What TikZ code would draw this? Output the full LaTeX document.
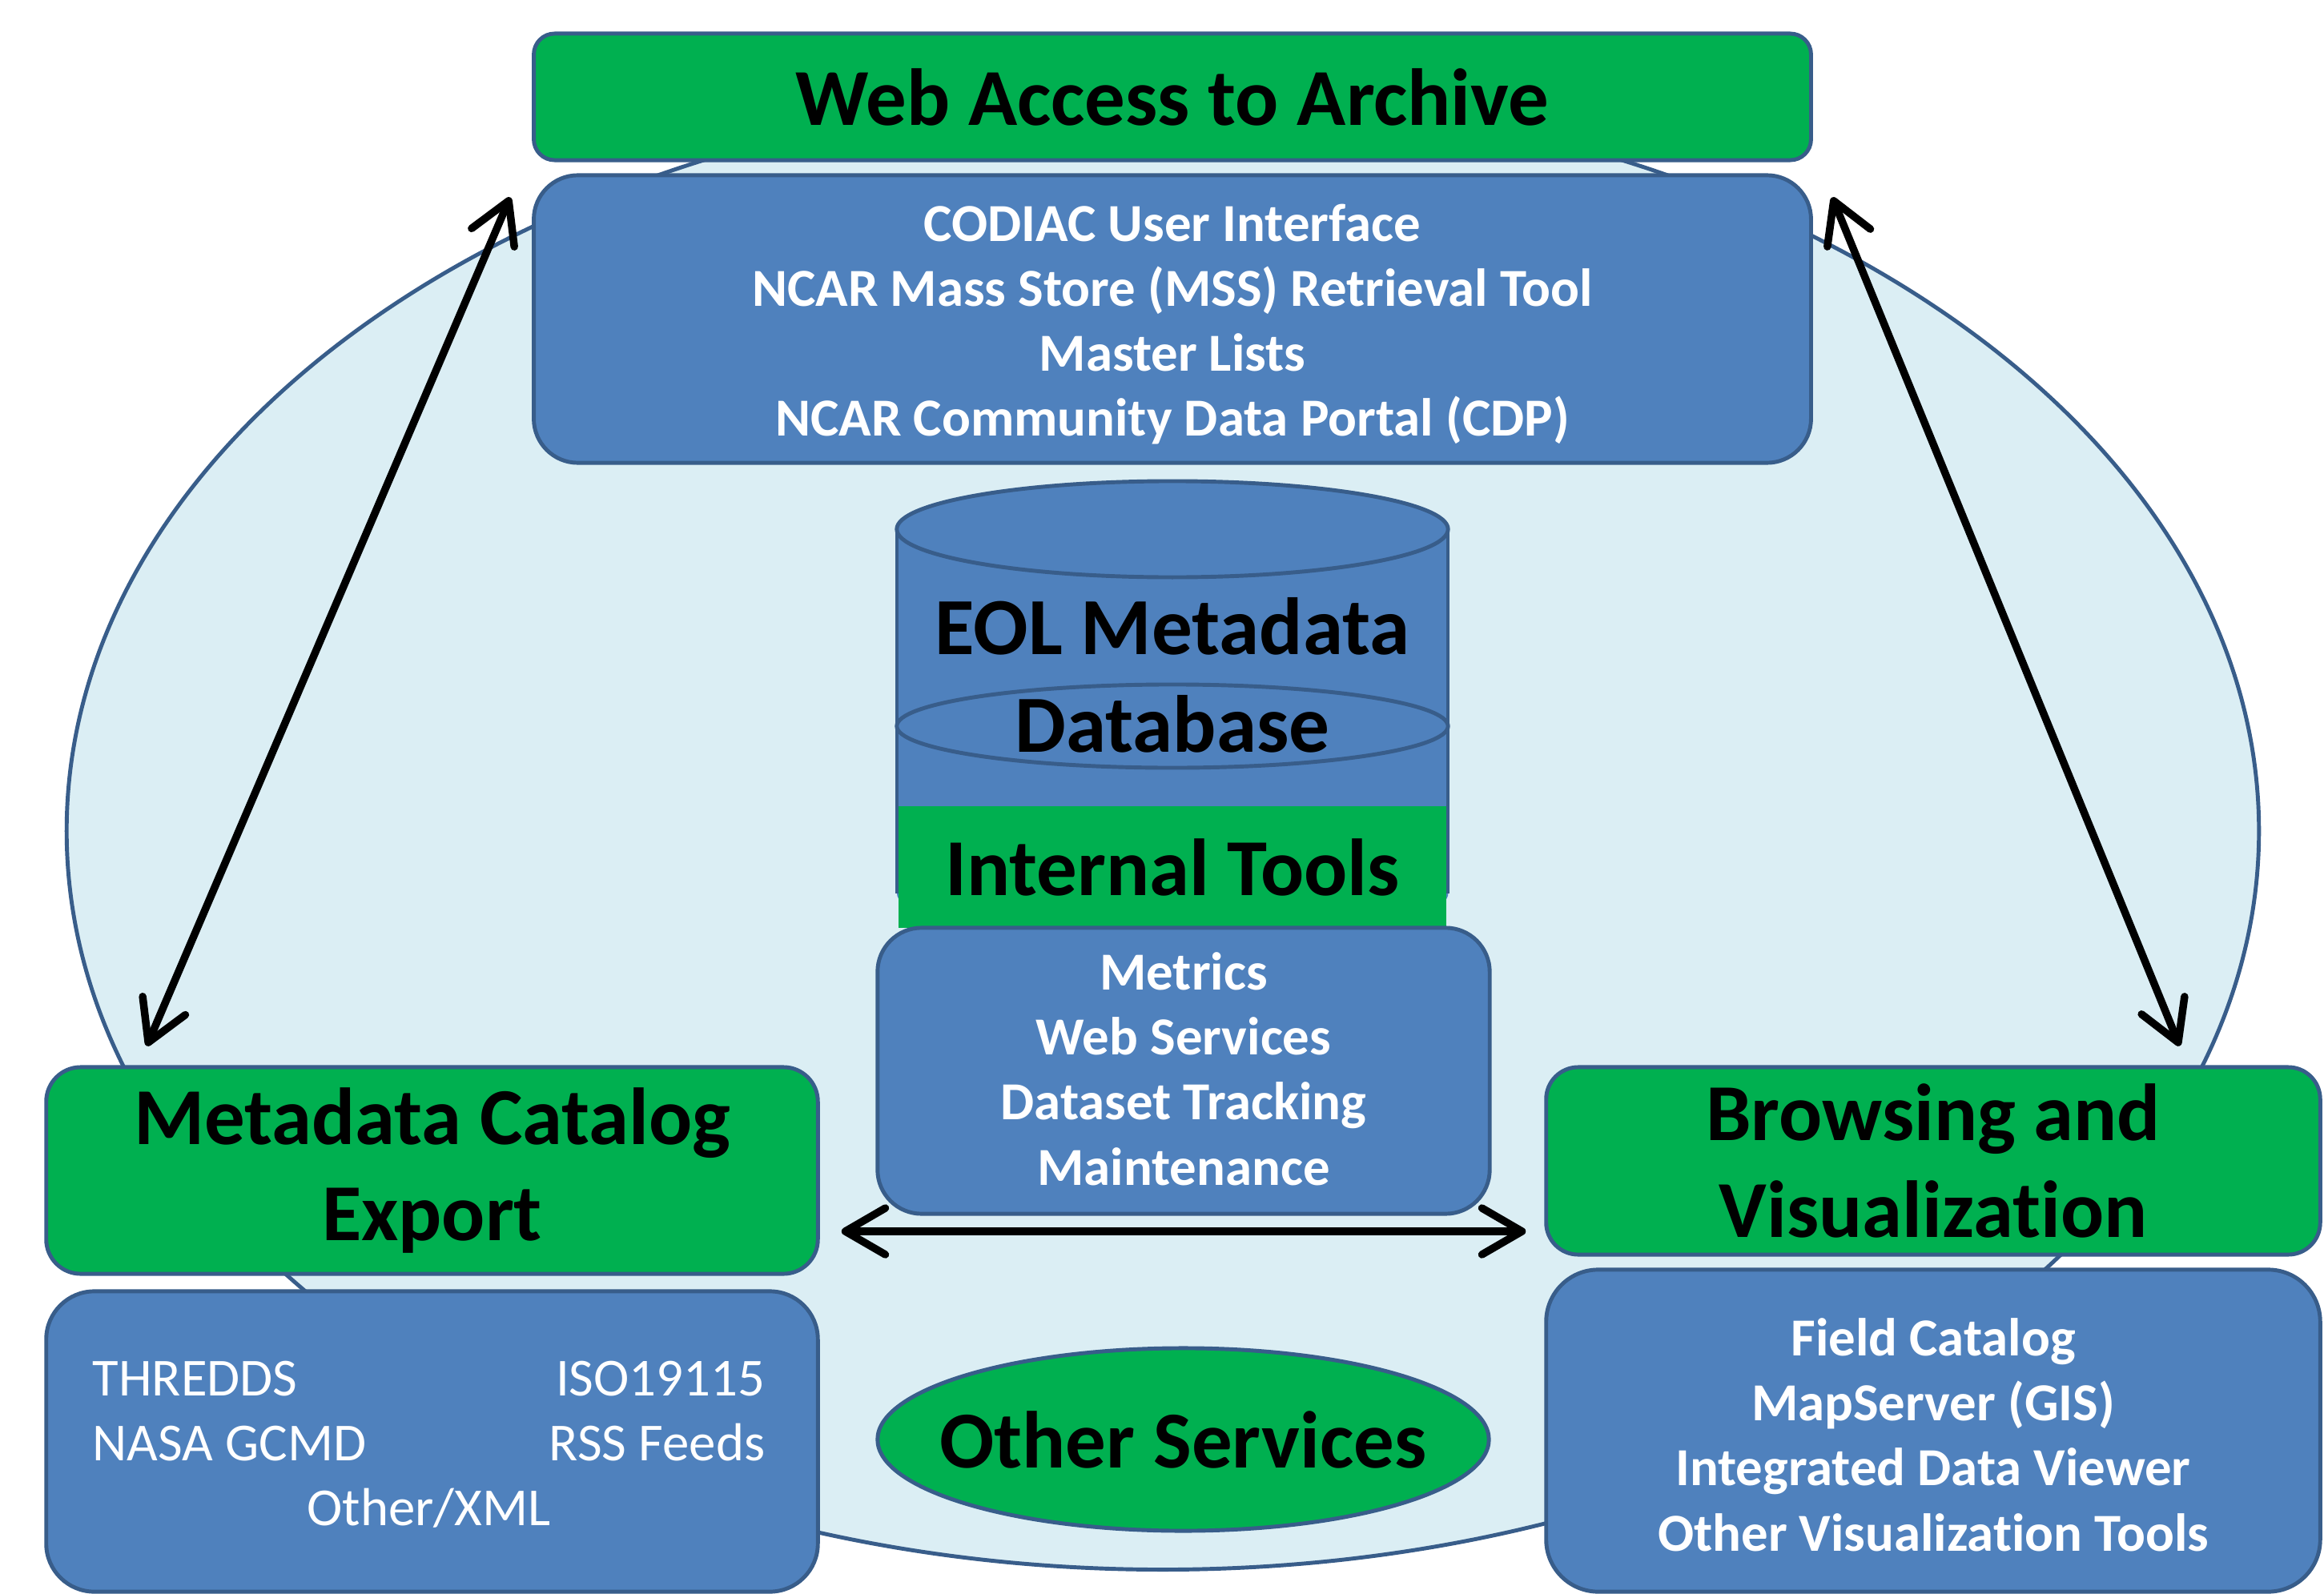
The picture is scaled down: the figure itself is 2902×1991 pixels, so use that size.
\documentclass[tikz,border=0pt]{standalone}
\usepackage{fontspec}
\setmainfont{Carlito}[Ligatures={NoCommon,NoContextual}]
\usetikzlibrary{arrows.meta,calc,shapes.geometric}
\definecolor{edge}{HTML}{385D8A}
\definecolor{boxblue}{HTML}{4F81BD}
\definecolor{boxgreen}{HTML}{00B050}
\definecolor{cloudfill}{HTML}{DBEEF4}
\begin{document}
\begin{tikzpicture}[x=0.01cm,y=-0.01cm,
  outline/.style={draw=edge,line width=1.4pt},
  titlefont/.style={font=\bfseries\fontsize{28.7}{34.4}\selectfont},
  bodyfont/.style={font=\bfseries\fontsize{19}{23.1}\selectfont},
  greenbox/.style={outline,fill=boxgreen,inner sep=0pt,titlefont,align=center,text=black},
  bluebox/.style={outline,fill=boxblue,inner sep=0pt},
  bodytext/.style={inner sep=0pt,bodyfont,align=center,text=white},
  arr/.style={line width=2.7pt,{Straight Barb[length=0.5cm,width=0.58cm,round]}-{Straight Barb[length=0.5cm,width=0.58cm,round]}}
]
\useasboundingbox (0,0) rectangle (2902,1991);

% background ellipse
\node[ellipse,outline,fill=cloudfill,minimum width=27.36cm,minimum height=18.44cm,inner sep=0pt] (backdrop) at (1452,1038) {};

% top
\node[greenbox,rounded corners=0.26cm,minimum width=15.94cm,minimum height=1.58cm] (web) at (1464,121) {Web Access to Archive};
\node[bluebox,rounded corners=0.55cm,minimum width=15.94cm,minimum height=3.59cm] (webtools) at (1464,398.5) {};
\node[bodytext] (webtoolstext) at (1464,405)
  {CODIAC User Interface\\NCAR Mass Store (MSS) Retrieval Tool\\Master Lists\\NCAR Community Data Portal (CDP)};

% cylinder
\fill[boxblue] (1120,661) -- (1120,1116) arc[start angle=180,end angle=360,x radius=3.44cm,y radius=0.6cm] -- (1808,661) -- cycle;
\draw[outline] (1120,661) -- (1120,1116);
\draw[outline] (1808,661) -- (1808,1116);
\draw[outline,fill=boxblue] (1464,661) ellipse [x radius=3.44cm,y radius=0.6cm];
\draw[outline] (1464,907) ellipse [x radius=3.44cm,y radius=0.52cm];
\node[align=center,inner sep=0pt,font=\bfseries\fontsize{28.8}{34.7}\selectfont] (dbtext) at (1464,843) {EOL Metadata\\Database};

% internal tools
\node[fill=boxgreen,inner sep=0pt,minimum width=6.84cm,minimum height=1.52cm,titlefont] (internal) at (1464,1083) {Internal Tools};
\node[bluebox,rounded corners=0.55cm,minimum width=7.64cm,minimum height=3.57cm] (internaltools) at (1478,1337.5) {};
\node[bodytext] (internaltext) at (1478,1335) {Metrics\\Web Services\\Dataset Tracking\\Maintenance};

% left
\node[greenbox,rounded corners=0.43cm,minimum width=9.63cm,minimum height=2.58cm] (export) at (539.5,1462) {Metadata Catalog\\Export};
\node[bluebox,rounded corners=0.6cm,minimum width=9.63cm,minimum height=3.75cm] (exporttools) at (539.5,1800.5) {};
\node[text=white,inner sep=0pt,font=\fontsize{19}{23.1}\selectfont] (exportlist) at (535.5,1808) {%
  \begin{tabular*}{8.39cm}{@{}l@{\extracolsep{\fill}}r@{}}
  THREDDS & ISO19115\\
  NASA GCMD & RSS Feeds\\
  \multicolumn{2}{c}{Other/XML}
  \end{tabular*}};

% right
\node[greenbox,rounded corners=0.4cm,minimum width=9.66cm,minimum height=2.34cm] (browse) at (2414,1450) {Browsing and\\Visualization};
\node[bluebox,rounded corners=0.65cm,minimum width=9.66cm,minimum height=4.02cm] (browsetools) at (2414,1787) {};
\node[bodytext] (browsetext) at (2414,1792)
  {Field Catalog\\MapServer (GIS)\\Integrated Data Viewer\\Other Visualization Tools};

% other services
\node[ellipse,outline,fill=boxgreen,minimum width=7.63cm,minimum height=2.28cm,inner sep=0pt,titlefont] (other) at (1477.5,1798) {\makebox[0pt]{Other Services}};

% connector ends
\coordinate (lt) at ($(webtools.north west)+(-27,30)$);
\coordinate (lb) at ($(export.north west)+(128,-24)$);
\coordinate (rt) at ($(webtools.north east)+(24,30)$);
\coordinate (rb) at ($(browse.north east)+(-178,-24)$);
\coordinate (hl) at ($(export.east)+(27,76)$);
\coordinate (hr) at ($(browse.west)+(-23,88)$);

\draw[arr] (lb) -- (lt);
\draw[arr] (rb) -- (rt);
\draw[arr] (hl) -- (hr);
\end{tikzpicture}
\end{document}
